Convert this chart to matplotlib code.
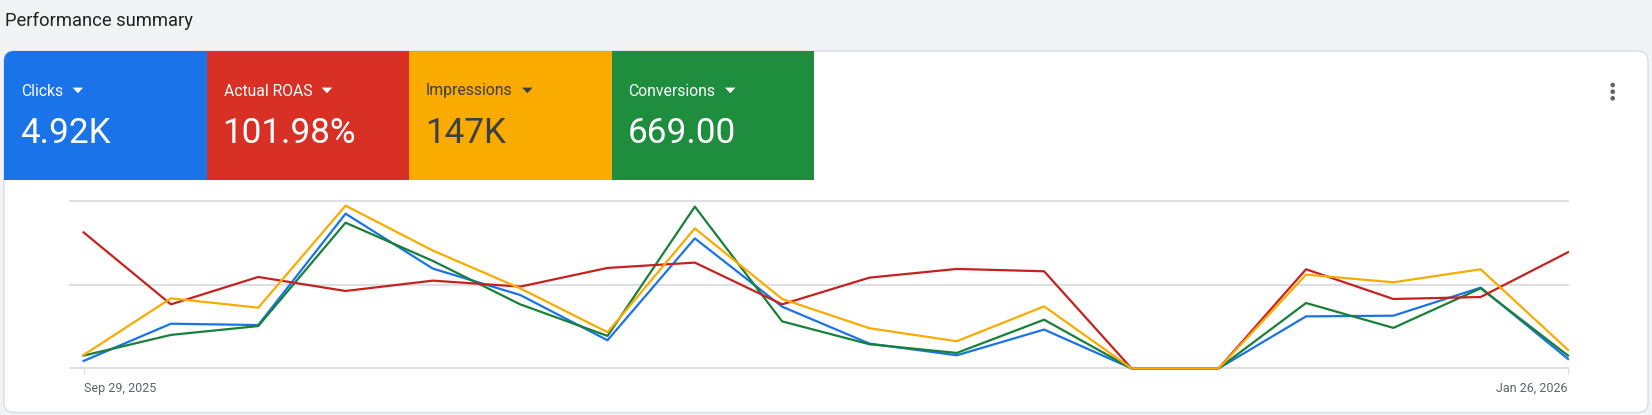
import matplotlib
matplotlib.use("Agg")
import matplotlib.pyplot as plt
from matplotlib.patches import FancyBboxPatch, Rectangle, Polygon, Ellipse

W, H = 1652, 415
DPI = 100

# ---------------- data (values as % of chart height) -------------
weeks = list(range(18))
tick_labels = ["Sep 29, 2025", "Jan 26, 2026"]
metric_names = ["Clicks", "Actual ROAS", "Impressions", "Conversions"]
metric_values = ["4.92K", "101.98%", "147K", "669.00"]

clicks = [4.4, 26.7, 25.9, 92.6, 59.7, 43.9, 16.8, 77.8, 36.9, 14.8, 7.8, 23.2, 0, 0, 31.1, 31.5, 48.3, 5.6]
roas = [81.4, 38.3, 54.7, 46.3, 52.5, 48.9, 60.1, 63.3, 38.3, 54.3, 59.5, 58.1, 0, 0, 59.3, 41.5, 42.7, 69.5]
impressions = [8.0, 41.9, 36.3, 97.4, 70.5, 47.9, 21.6, 83.8, 41.5, 24.0, 16.2, 37.1, 0, 0, 56.1, 51.5, 59.3, 11.0]
conversions = [7.6, 20.0, 25.3, 87.2, 64.3, 38.3, 19.4, 96.8, 28.1, 14.4, 9.2, 29.1, 0, 0, 39.1, 24.2, 47.9, 7.6]

tile_colors = ["#1a73e8", "#d93025", "#f9ab00", "#1e8e3e"]
tile_text_colors = ["white", "white", "#3c4043", "white"]
line_colors = {"clicks": "#1a73e8", "roas": "#c5221f", "impressions": "#f9ab00", "conversions": "#188038"}

plt.rcParams["font.family"] = ["Roboto", "DejaVu Sans"]

fig = plt.figure(figsize=(W / DPI, H / DPI), dpi=DPI)
fig.patch.set_facecolor("#f1f3f4")


def fx(x):
    return x / W


def fy(y):
    return 1 - y / H


def add(p):
    p.set_zorder(-5)
    fig.patches.append(p)


# title
fig.text(fx(5), fy(26.5), "Performance summary", fontsize=13.2, color="#202124",
         ha="left", va="baseline")

# card
add(FancyBboxPatch((fx(4), fy(412.5)), fx(1648) - fx(4), fy(51) - fy(412.5),
                   boxstyle="round,pad=0,rounding_size=0.006",
                   transform=fig.transFigure, facecolor="white",
                   edgecolor="#dadce0", linewidth=1.0, mutation_aspect=W / H))

# tiles
tile_x = [4, 206.5, 409, 611.5]
tile_w = 202.5
label_texts = []
for i, (name, val) in enumerate(zip(metric_names, metric_values)):
    x0 = tile_x[i]
    wdt = tile_w + (1.0 if i < 3 else 0)
    if i == 0:
        add(FancyBboxPatch((fx(x0), fy(180)), fx(wdt), fy(51) - fy(180),
                           boxstyle="round,pad=0,rounding_size=0.006",
                           transform=fig.transFigure, facecolor=tile_colors[i],
                           edgecolor="none", mutation_aspect=W / H))
        add(Rectangle((fx(x0 + 10), fy(180)), fx(wdt - 10), fy(51) - fy(180),
                      transform=fig.transFigure, facecolor=tile_colors[i], edgecolor="none"))
        add(Rectangle((fx(x0), fy(180)), fx(wdt), fy(61) - fy(180),
                      transform=fig.transFigure, facecolor=tile_colors[i], edgecolor="none"))
    else:
        add(Rectangle((fx(x0), fy(180)), fx(wdt), fy(51) - fy(180),
                      transform=fig.transFigure, facecolor=tile_colors[i], edgecolor="none"))
    t = fig.text(fx(x0 + 17), fy(95.5), name, fontsize=11.3, color=tile_text_colors[i],
                 ha="left", va="baseline")
    label_texts.append(t)
    fig.text(fx(x0 + 16), fy(143), val, fontsize=25.3, color=tile_text_colors[i],
             ha="left", va="baseline")

# kebab menu
for yy in (85, 91.7, 98.3):
    add(Ellipse((fx(1612.7), fy(yy)), 4.6 / W, 4.6 / H, transform=fig.transFigure,
                facecolor="#5f6368", edgecolor="none"))

# chart axes
ax_left, ax_right = 70, 1568
y_bottom, y_top = 368.3, 201.3
ax = fig.add_axes([fx(ax_left), fy(y_bottom), fx(ax_right - ax_left), (y_bottom - y_top) / H])
ax.set_zorder(5)
ax.set_facecolor("none")
spacing = (1568 - 83.6) / 17
ax.set_xlim(-(83.6 - ax_left) / spacing, 17)
ax.set_ylim(0, 100)
for s in ax.spines.values():
    s.set_visible(False)
for gy in (0, 50, 100):
    ax.axhline(gy, color="#dadce0", linewidth=1.3, zorder=1, clip_on=False)

lw = 1.6
ax.plot(weeks, clicks, color=line_colors["clicks"], lw=lw, zorder=3, clip_on=False)
ax.plot(weeks, conversions, color=line_colors["conversions"], lw=lw, zorder=4, clip_on=False)
ax.plot(weeks, roas, color=line_colors["roas"], lw=lw, zorder=5, clip_on=False)
ax.plot(weeks, impressions, color=line_colors["impressions"], lw=lw, zorder=6, clip_on=False)

ax.set_yticks([])
ax.set_xticks([weeks[0], weeks[-1]])
ax.set_xticklabels(tick_labels)
ax.tick_params(axis="x", length=4, width=0.8, color="#dadce0", labelsize=9,
               labelcolor="#5f6368", pad=6)
lbls = ax.get_xticklabels()
lbls[0].set_ha("left")
lbls[1].set_ha("right")

# dropdown triangles after labels
fig.canvas.draw()
renderer = fig.canvas.get_renderer()
for i, t in enumerate(label_texts):
    bb = t.get_window_extent(renderer)
    x_start = bb.x1 + 9.5
    cy = 90.3
    add(Polygon([(fx(x_start), fy(cy - 2.7)), (fx(x_start + 10.5), fy(cy - 2.7)),
                 (fx(x_start + 5.25), fy(cy + 2.9))], closed=True,
                transform=fig.transFigure, facecolor=tile_text_colors[i], edgecolor="none"))
    fig.patches[-1].set_zorder(3)

fig.savefig("out.png", dpi=DPI, facecolor=fig.get_facecolor())
